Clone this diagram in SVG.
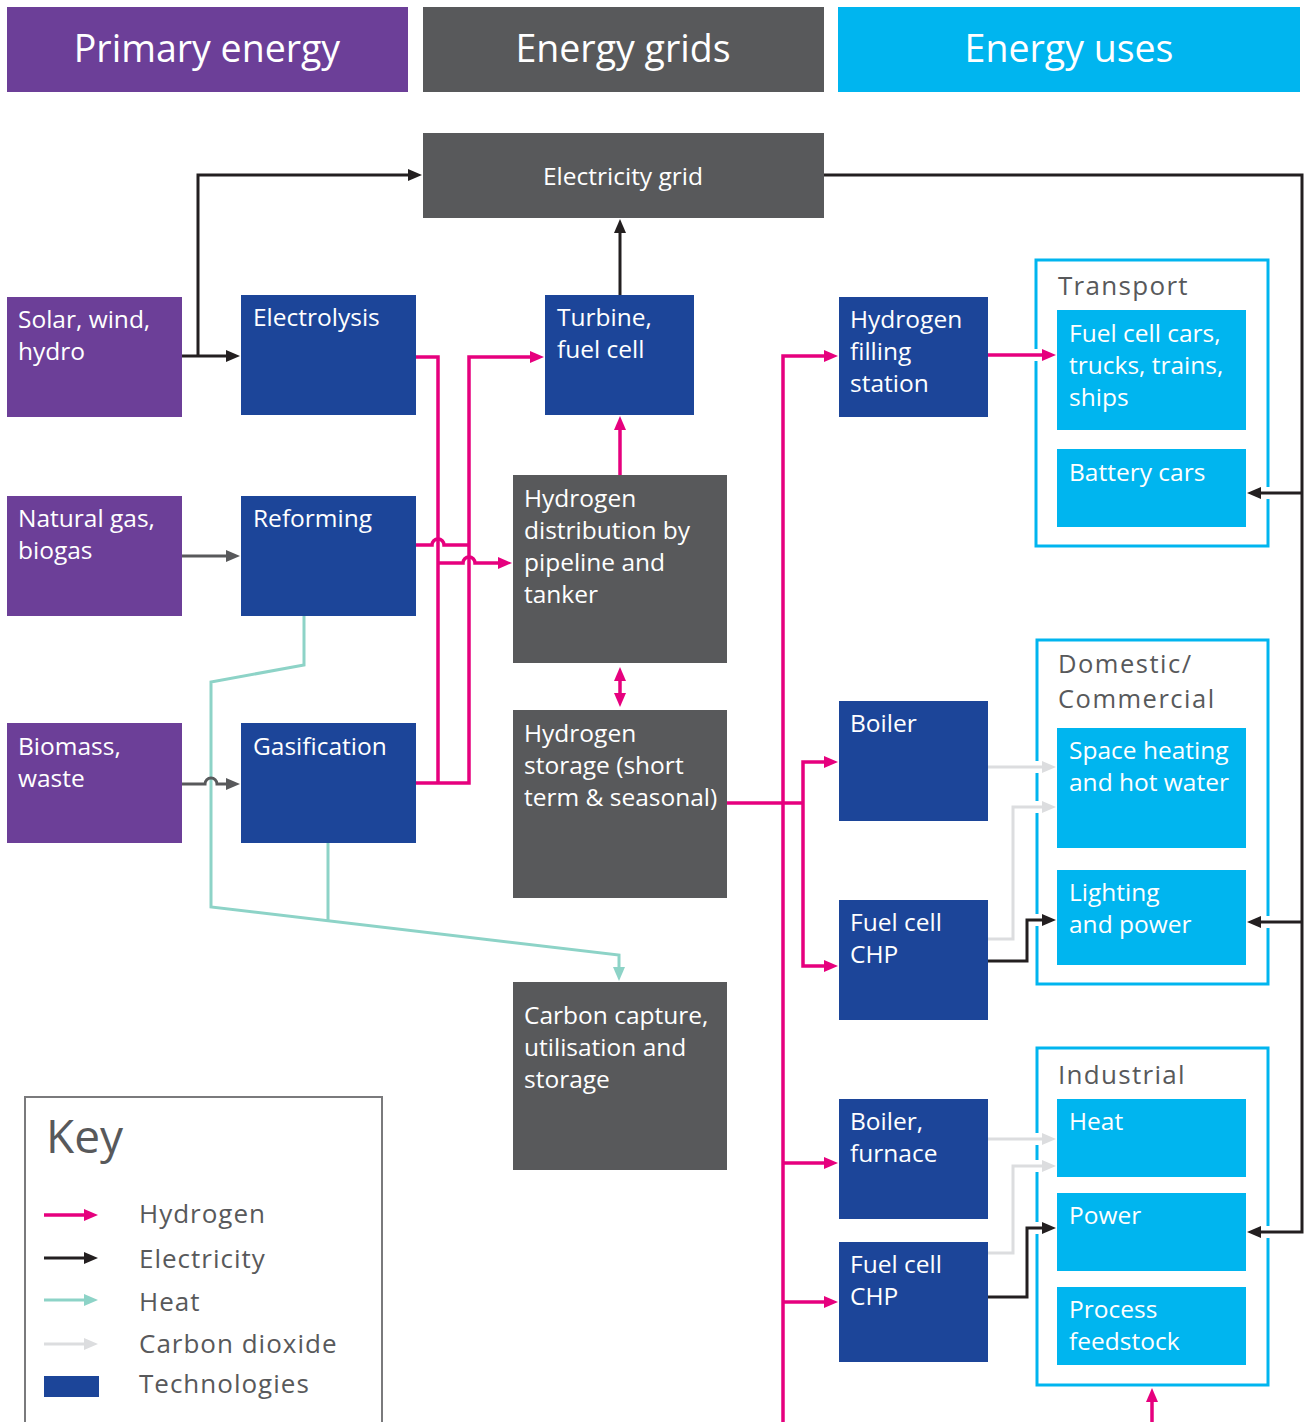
<svg xmlns="http://www.w3.org/2000/svg" width="1309" height="1422" viewBox="0 0 1309 1422">
<defs>
<style>
.hdr{font-family:"Open Sans","Noto Sans",sans-serif;font-size:37.5px;fill:#fff;text-anchor:middle}
.t{font-family:"Open Sans","Noto Sans",sans-serif;font-size:24.5px;fill:#fff}
.ttl{font-family:"Open Sans","Noto Sans",sans-serif;font-size:26px;fill:#58595b;letter-spacing:1.3px}
.key{font-family:"Open Sans","Noto Sans",sans-serif;font-size:26px;fill:#58595b;letter-spacing:1px}
.pur{fill:#6c3f98}.gry{fill:#58595b}.cyn{fill:#00b5ef}.blu{fill:#1c4599}
.grp{fill:none;stroke:#00b5ef;stroke-width:3}
.c{fill:none;stroke-linejoin:miter}
.h{stroke:#e6007e;stroke-width:3.5}
.e{stroke:#231f20;stroke-width:3}
.ht{stroke:#8dd3c7;stroke-width:3}
.co{stroke:#dcdddf;stroke-width:3}
.dg{stroke:#58595b;stroke-width:3}
.mh{marker-end:url(#ah)}.me{marker-end:url(#ae)}.mt{marker-end:url(#at)}.mc{marker-end:url(#ac)}.md{marker-end:url(#ad)}
</style>
<marker id="ah" viewBox="0 0 14 12" refX="1" refY="6" markerWidth="14" markerHeight="12" markerUnits="userSpaceOnUse" orient="auto-start-reverse"><path d="M0,0 L14,6 L0,12 z" fill="#e6007e"/></marker>
<marker id="ae" viewBox="0 0 14 12" refX="1" refY="6" markerWidth="14" markerHeight="12" markerUnits="userSpaceOnUse" orient="auto"><path d="M0,0 L14,6 L0,12 z" fill="#231f20"/></marker>
<marker id="at" viewBox="0 0 14 12" refX="1" refY="6" markerWidth="14" markerHeight="12" markerUnits="userSpaceOnUse" orient="auto"><path d="M0,0 L14,6 L0,12 z" fill="#8dd3c7"/></marker>
<marker id="ac" viewBox="0 0 14 12" refX="1" refY="6" markerWidth="14" markerHeight="12" markerUnits="userSpaceOnUse" orient="auto"><path d="M0,0 L14,6 L0,12 z" fill="#dcdddf"/></marker>
<marker id="ad" viewBox="0 0 14 12" refX="1" refY="6" markerWidth="14" markerHeight="12" markerUnits="userSpaceOnUse" orient="auto"><path d="M0,0 L14,6 L0,12 z" fill="#58595b"/></marker>
</defs>
<rect width="1309" height="1422" fill="#fff"/>

<g id="header-primary"><rect class="pur" x="7" y="7" width="401" height="85"/><text class="hdr" x="207" y="62">Primary energy</text></g>
<g id="header-grids"><rect class="gry" x="423" y="7" width="401" height="85"/><text class="hdr" x="623" y="62">Energy grids</text></g>
<g id="header-uses"><rect class="cyn" x="838" y="7" width="462" height="85"/><text class="hdr" x="1069" y="62">Energy uses</text></g>

<g id="electricity-grid"><rect class="gry" x="423" y="133" width="401" height="85"/><text class="t" x="623" y="185" text-anchor="middle">Electricity grid</text></g>

<g id="solar"><rect class="pur" x="7" y="297" width="175" height="120"/><text class="t" x="18" y="328">Solar, wind,</text><text class="t" x="18" y="360">hydro</text></g>
<g id="natural-gas"><rect class="pur" x="7" y="496" width="175" height="120"/><text class="t" x="18" y="527">Natural gas,</text><text class="t" x="18" y="559">biogas</text></g>
<g id="biomass"><rect class="pur" x="7" y="723" width="175" height="120"/><text class="t" x="18" y="755">Biomass,</text><text class="t" x="18" y="787">waste</text></g>

<g id="electrolysis"><rect class="blu" x="241" y="295" width="175" height="120"/><text class="t" x="253" y="326">Electrolysis</text></g>
<g id="reforming"><rect class="blu" x="241" y="496" width="175" height="120"/><text class="t" x="253" y="527">Reforming</text></g>
<g id="gasification"><rect class="blu" x="241" y="723" width="175" height="120"/><text class="t" x="253" y="755">Gasification</text></g>

<g id="turbine"><rect class="blu" x="545" y="295" width="149" height="120"/><text class="t" x="557" y="326">Turbine,</text><text class="t" x="557" y="358">fuel cell</text></g>
<g id="distribution"><rect class="gry" x="513" y="475" width="214" height="188"/><text class="t" x="524" y="507">Hydrogen</text><text class="t" x="524" y="539">distribution by</text><text class="t" x="524" y="571">pipeline and</text><text class="t" x="524" y="603">tanker</text></g>
<g id="storage"><rect class="gry" x="513" y="710" width="214" height="188"/><text class="t" x="524" y="742">Hydrogen</text><text class="t" x="524" y="774">storage (short</text><text class="t" x="524" y="806">term &amp; seasonal)</text></g>
<g id="ccus"><rect class="gry" x="513" y="982" width="214" height="188"/><text class="t" x="524" y="1024">Carbon capture,</text><text class="t" x="524" y="1056">utilisation and</text><text class="t" x="524" y="1088">storage</text></g>

<g id="filling-station"><rect class="blu" x="839" y="297" width="149" height="120"/><text class="t" x="850" y="328">Hydrogen</text><text class="t" x="850" y="360">filling</text><text class="t" x="850" y="392">station</text></g>
<g id="boiler"><rect class="blu" x="839" y="701" width="149" height="120"/><text class="t" x="850" y="732">Boiler</text></g>
<g id="chp1"><rect class="blu" x="839" y="900" width="149" height="120"/><text class="t" x="850" y="931">Fuel cell</text><text class="t" x="850" y="963">CHP</text></g>
<g id="boiler-furnace"><rect class="blu" x="839" y="1099" width="149" height="120"/><text class="t" x="850" y="1130">Boiler,</text><text class="t" x="850" y="1162">furnace</text></g>
<g id="chp2"><rect class="blu" x="839" y="1242" width="149" height="120"/><text class="t" x="850" y="1273">Fuel cell</text><text class="t" x="850" y="1305">CHP</text></g>

<g id="transport"><rect class="grp" x="1036" y="260" width="232" height="286"/><text class="ttl" x="1058" y="295">Transport</text></g>
<g id="fuel-cell-cars"><rect class="cyn" x="1057" y="310" width="189" height="120"/><text class="t" x="1069" y="342">Fuel cell cars,</text><text class="t" x="1069" y="374">trucks, trains,</text><text class="t" x="1069" y="406">ships</text></g>
<g id="battery-cars"><rect class="cyn" x="1057" y="449" width="189" height="78"/><text class="t" x="1069" y="481">Battery cars</text></g>

<g id="domestic"><rect class="grp" x="1037" y="640" width="231" height="344"/><text class="ttl" x="1058" y="673" style="font-size:25.5px;letter-spacing:1.5px">Domestic/</text><text class="ttl" x="1058" y="708" style="font-size:25.5px;letter-spacing:1.5px">Commercial</text></g>
<g id="space-heating"><rect class="cyn" x="1057" y="728" width="189" height="120"/><text class="t" x="1069" y="759">Space heating</text><text class="t" x="1069" y="791">and hot water</text></g>
<g id="lighting"><rect class="cyn" x="1057" y="870" width="189" height="95"/><text class="t" x="1069" y="901">Lighting</text><text class="t" x="1069" y="933">and power</text></g>

<g id="industrial"><rect class="grp" x="1037" y="1048" width="231" height="337"/><text class="ttl" x="1058" y="1084">Industrial</text></g>
<g id="heat"><rect class="cyn" x="1057" y="1099" width="189" height="78"/><text class="t" x="1069" y="1130">Heat</text></g>
<g id="power"><rect class="cyn" x="1057" y="1193" width="189" height="78"/><text class="t" x="1069" y="1224">Power</text></g>
<g id="feedstock"><rect class="cyn" x="1057" y="1287" width="189" height="78"/><text class="t" x="1069" y="1318">Process</text><text class="t" x="1069" y="1350">feedstock</text></g>

<g id="border-gaps" fill="#fff">
<rect x="1032" y="349" width="9" height="12"/>
<rect x="1264" y="487" width="9" height="12"/>
<rect x="1033" y="761" width="9" height="12"/>
<rect x="1033" y="801" width="9" height="12"/>
<rect x="1033" y="914" width="9" height="12"/>
<rect x="1264" y="916" width="9" height="12"/>
<rect x="1033" y="1133" width="9" height="12"/>
<rect x="1033" y="1160" width="9" height="12"/>
<rect x="1033" y="1222" width="9" height="12"/>
<rect x="1264" y="1226" width="9" height="12"/>
</g>

<g id="connectors">
<path class="c e me" d="M182,356 H227"/>
<path class="c e me" d="M198,356 V175 H409"/>
<path class="c e me" d="M620,295 V232"/>
<path class="c e me" d="M824,175 H1302 V1232 H1260"/>
<path class="c e me" d="M1302,493 H1260"/>
<path class="c e me" d="M1302,922 H1260"/>
<path class="c e me" d="M988,961 H1027 V920 H1043"/>
<path class="c e me" d="M988,1297 H1027 V1228 H1043"/>
<path class="c co mc" d="M988,767 H1043"/>
<path class="c co mc" d="M988,939 H1013 V807 H1043"/>
<path class="c co mc" d="M988,1139 H1043"/>
<path class="c co mc" d="M988,1253 H1013 V1166 H1043"/>
<path class="c ht mt" d="M304,616 V665 L211,682 V907 L619,955 V968"/>
<path class="c ht" d="M328,843 V921"/>
<path class="c dg md" d="M182,556 H227"/>
<path class="c dg md" d="M182,784 H205 A6,6 0 0 1 217,784 H227"/>
<path class="c h" d="M416,357 H438 V783"/>
<path class="c h mh" d="M416,783 H469 V357 H531"/>
<path class="c h" d="M416,545 H432 A6,6 0 0 1 444,545 H469"/>
<path class="c h mh" d="M438,563 H463 A6,6 0 0 1 475,563 H499"/>
<path class="c h mh" d="M620,475 V429"/>
<path class="c h" d="M620,680 V694" marker-start="url(#ah)" marker-end="url(#ah)"/>
<path class="c h" d="M727,803 H803"/>
<path class="c h mh" d="M803,803 V762 H825"/>
<path class="c h mh" d="M803,803 V966 H825"/>
<path class="c h mh" d="M783,1422 V356 H825"/>
<path class="c h mh" d="M783,1163 H825"/>
<path class="c h mh" d="M783,1302 H825"/>
<path class="c h mh" d="M988,355 H1043"/>
<path class="c h mh" d="M1152,1422 V1401"/>
</g>

<g id="key">
<rect x="25" y="1097" width="357" height="340" fill="none" stroke="#7a7a7c" stroke-width="2"/>
<text x="46" y="1153" font-family="Open Sans, Noto Sans, sans-serif" font-size="46" fill="#58595b">Key</text>
<path class="c h mh" d="M44,1215 H85"/>
<text class="key" x="139" y="1223">Hydrogen</text>
<path class="c e me" d="M44,1258 H85"/>
<text class="key" x="139" y="1268">Electricity</text>
<path class="c ht mt" d="M44,1300 H85"/>
<text class="key" x="139" y="1311">Heat</text>
<path class="c co mc" d="M44,1344 H85"/>
<text class="key" x="139" y="1353">Carbon dioxide</text>
<rect class="blu" x="44" y="1376" width="55" height="21"/>
<text class="key" x="139" y="1393">Technologies</text>
</g>
</svg>
